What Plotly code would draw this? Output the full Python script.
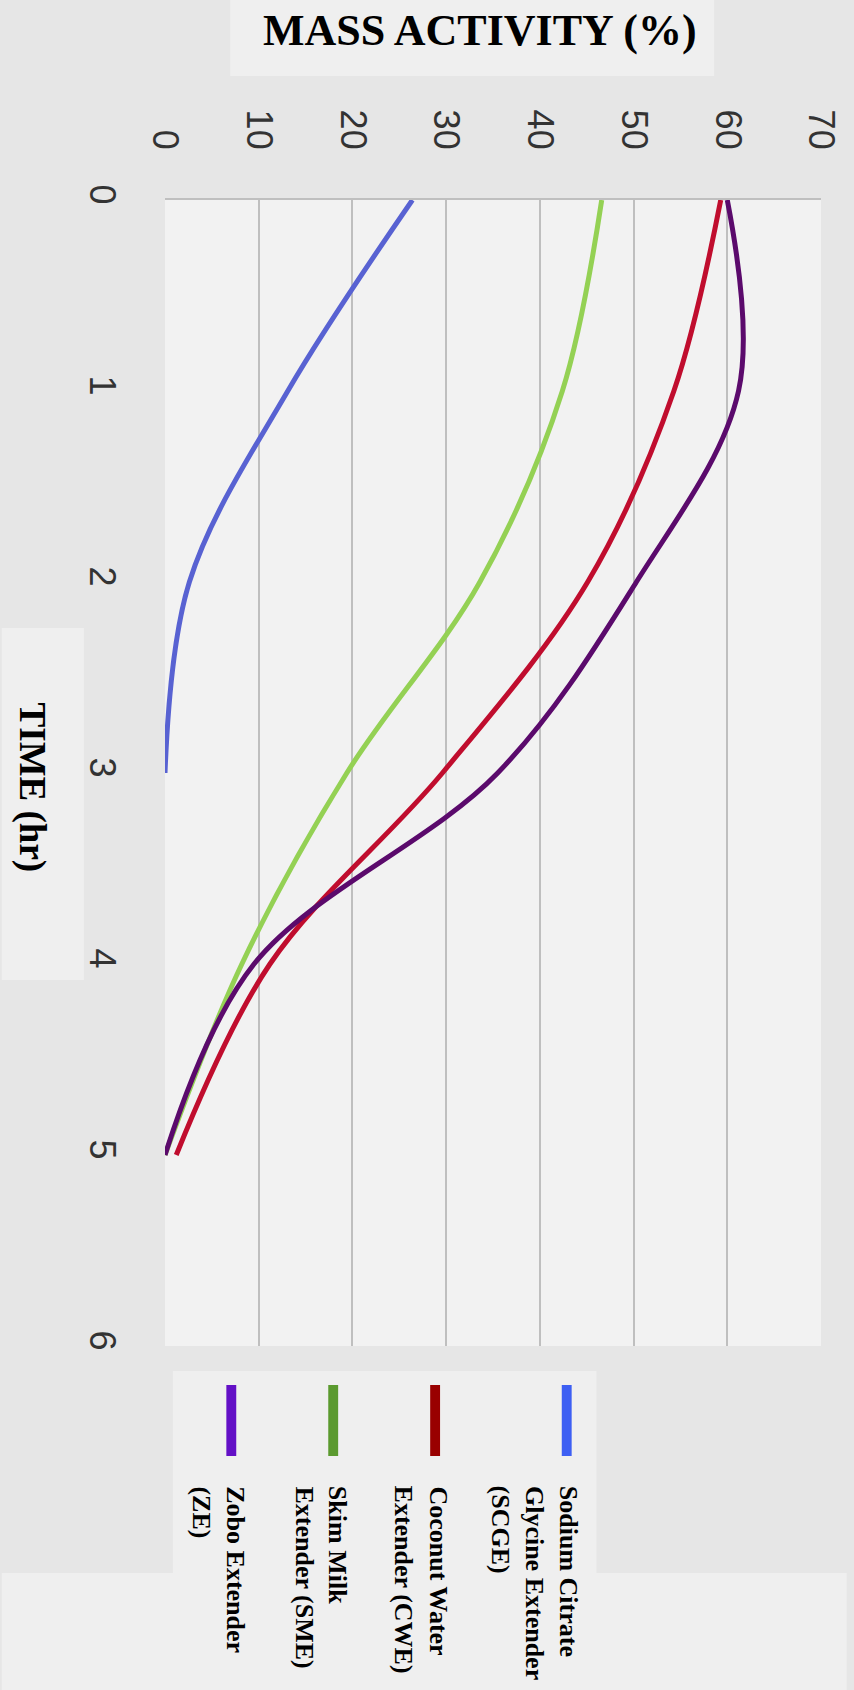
import plotly.graph_objects as go

# Sampling times (hours) and mass activity (%) of each extender
time_hr = [0, 1, 2, 3, 4, 5]
scge_time = [0, 1, 2, 3]
scge = [26.4, 13.1, 2.6, 0.0]
cwe = [59.3, 54.3, 45.1, 29.6, 11.2, 1.2]
sme = [46.6, 42.4, 33.6, 19.4, 8.2, 0.0]
ze = [60.0, 61.2, 50.3, 35.5, 9.5, 0.0]

activity_ticks = [0, 10, 20, 30, 40, 50, 60, 70]
time_ticks = [0, 1, 2, 3, 4, 5, 6]

# key labels, one list of text lines per series
series_lines = [
    ["Sodium Citrate", "Glycine Extender", "(SCGE)"],
    ["Coconut Water", "Extender (CWE)"],
    ["Skim Milk", "Extender (SME)"],
    ["Zobo Extender", "(ZE)"],
]
line_colors = ["#5862d2", "#c00d2e", "#94d154", "#5b0a6c"]
key_colors = ["#3d5ff3", "#990000", "#5b9a2f", "#6310c6"]

W_FIG, H_FIG = 854, 1690
L, T, R, B = 165, 200, 26, 344
PW, PH = W_FIG - L - R, H_FIG - T - B


def px(x):
    return (x - L) / PW


def py(y):
    return (T + PH - y) / PH


fig = go.Figure()
series = [(scge_time, scge), (time_hr, cwe), (time_hr, sme), (time_hr, ze)]
for (t, v), lines, col in zip(series, series_lines, line_colors):
    fig.add_trace(go.Scatter(
        x=v, y=t, mode="lines", name=" ".join(lines),
        line=dict(color=col, width=5, shape="spline", smoothing=1.0),
        showlegend=False,
    ))

serif = "Liberation Serif, Times New Roman, serif"
shapes = []
annotations = []

# background panels around the titles and the key
for x0, y0, x1, y1 in [(231, 0, 720, 76), (0, 628, 83, 980),
                       (173, 1371, 601, 1575), (0, 1573, 854, 1690)]:
    shapes.append(dict(type="rect", xref="paper", yref="paper",
                       x0=px(x0), x1=px(x1), y0=py(y1), y1=py(y0),
                       fillcolor="#efefef", line=dict(width=0), layer="below"))

annotations.append(dict(text="<b>MASS ACTIVITY (%)</b>", xref="paper", yref="paper",
                        x=px(483), y=py(30), xanchor="center", yanchor="middle",
                        showarrow=False, font=dict(family=serif, size=44, color="#000")))
annotations.append(dict(text="<b>TIME (hr)</b>", xref="paper", yref="paper",
                        x=px(31), y=py(788), xanchor="center", yanchor="middle",
                        textangle=90, showarrow=False,
                        font=dict(family=serif, size=37, color="#000")))

# key: coloured bars with vertical labels, lines stacked right to left
key_x = [571, 438, 335, 232]
first_line_x = [573, 441, 340, 236]
pitch = 34
for kx, lx, lines, col in zip(key_x, first_line_x, series_lines, key_colors):
    shapes.append(dict(type="rect", xref="paper", yref="paper",
                       x0=px(kx - 5), x1=px(kx + 5), y0=py(1456), y1=py(1385),
                       fillcolor=col, line=dict(width=0)))
    for i, txt in enumerate(lines):
        annotations.append(dict(text="<b>" + txt + "</b>", xref="paper", yref="paper",
                                x=px(lx - i * pitch), y=py(1484),
                                xanchor="center", yanchor="top",
                                textangle=90, showarrow=False,
                                font=dict(family=serif, size=26, color="#000")))

tick_font = dict(family="Liberation Sans, Arial, sans-serif", size=36, color="#333")
fig.update_layout(
    width=W_FIG, height=H_FIG,
    margin=dict(l=L, r=R, t=T, b=B),
    paper_bgcolor="#e6e6e6", plot_bgcolor="#f2f2f2",
    shapes=shapes, annotations=annotations,
    xaxis=dict(range=[0, 70], side="top", tickvals=activity_ticks,
               ticktext=[str(v) for v in activity_ticks], tickangle=90,
               tickfont=tick_font, ticks="", ticklabelstandoff=36,
               showgrid=True, gridcolor="#bfbfbf", gridwidth=1.5,
               showline=True, linecolor="#bfbfbf", linewidth=1.5,
               zeroline=False, fixedrange=True),
    yaxis=dict(range=[6, 0], tickvals=time_ticks,
               ticktext=[str(v) for v in time_ticks], tickangle=90,
               tickfont=tick_font, ticks="", ticklabelstandoff=38,
               showgrid=False, zeroline=False, showline=False, fixedrange=True),
)

fig.write_html("out.html")
